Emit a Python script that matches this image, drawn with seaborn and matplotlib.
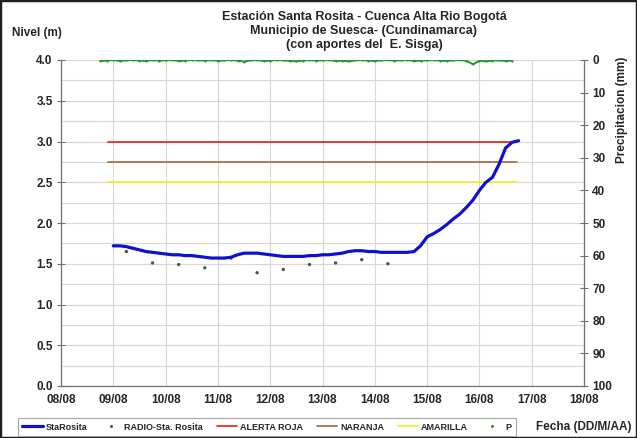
import numpy as np
import pandas as pd
import matplotlib
matplotlib.use("Agg")
import matplotlib.pyplot as plt
import matplotlib.dates as mdates
from matplotlib.patches import Rectangle
from matplotlib.ticker import MultipleLocator
from matplotlib.lines import Line2D
import seaborn as sns

# ---------------- data ----------------
start_day = "2011-08-08"
end_day = "2011-08-18"

# StaRosita level (m), every 3 h from 09/08 00:00
level_start = "2011-08-09 00:00"
level_values = [1.72, 1.72, 1.71, 1.69, 1.67, 1.65, 1.64, 1.63, 1.62, 1.61,
                1.61, 1.60, 1.60, 1.59, 1.58, 1.57, 1.57, 1.57, 1.58, 1.61,
                1.63, 1.63, 1.63, 1.62, 1.61, 1.60, 1.59, 1.59, 1.59, 1.59,
                1.60, 1.60, 1.61, 1.61, 1.62, 1.63, 1.65, 1.66, 1.66, 1.65,
                1.65, 1.64, 1.64, 1.64, 1.64, 1.64, 1.65, 1.72, 1.83, 1.87,
                1.92, 1.98, 2.05, 2.11, 2.19, 2.28, 2.40, 2.50, 2.56, 2.72,
                2.92, 2.99, 3.01]

# RADIO-Sta. Rosita readings (m)
radio_times = ["2011-08-09 06:00", "2011-08-09 18:00", "2011-08-10 06:00",
               "2011-08-10 18:00", "2011-08-11 06:00", "2011-08-11 18:00",
               "2011-08-12 06:00", "2011-08-12 18:00", "2011-08-13 06:00",
               "2011-08-13 18:00", "2011-08-14 06:00"]
radio_values = [1.65, 1.51, 1.49, 1.45, 1.57, 1.39, 1.43, 1.49, 1.51, 1.55, 1.50]

# alert thresholds (m)
alert_span = ["2011-08-08 21:30", "2011-08-16 17:20"]
alerta_roja = 3.0
naranja = 2.75
amarilla = 2.5

# precipitation P (mm), every 3 h from 08/08 18:00
precip_start = "2011-08-08 18:00"
precip_values = [0.3, 0.2, 0.0, 0.3, 0.1, 0.0, 0.2, 0.3,
                 0.0, 0.2, 0.1, 0.0, 0.3, 0.2, 0.0, 0.1,
                 0.2, 0.0, 0.3, 0.1, 0.0, 0.2, 0.5, 0.1,
                 0.0, 0.3, 0.2, 0.0, 0.1, 0.3, 0.4, 0.2,
                 0.0, 0.2, 0.1, 0.0, 0.3, 0.2, 0.4, 0.1,
                 0.0, 0.2, 0.3, 0.1, 0.0, 0.2, 0.1, 0.0,
                 0.3, 0.2, 0.1, 0.0, 0.2, 0.3, 0.1, 0.0,
                 0.2, 1.3, 0.3, 0.4, 0.2, 0.1, 0.3, 0.2]

title_lines = "Estación Santa Rosita - Cuenca Alta Rio Bogotá\nMunicipio de Suesca- (Cundinamarca)\n(con aportes del  E. Sisga)"

# ---------------- frames ----------------
df_level = pd.DataFrame({
    "t": pd.date_range(level_start, periods=len(level_values), freq="3h"),
    "v": level_values})
df_radio = pd.DataFrame({"t": pd.to_datetime(radio_times), "v": radio_values})
span = pd.to_datetime(alert_span)
df_roja = pd.DataFrame({"t": span, "v": [alerta_roja] * 2})
df_nar = pd.DataFrame({"t": span, "v": [naranja] * 2})
df_ama = pd.DataFrame({"t": span, "v": [amarilla] * 2})
df_p = pd.DataFrame({
    "t": pd.date_range(precip_start, periods=len(precip_values), freq="3h"),
    "v": precip_values})

# ---------------- plot ----------------
sns.set_theme(style="white")
plt.rcParams["font.family"] = ["Liberation Sans", "DejaVu Sans"]
plt.rcParams["font.weight"] = "bold"

W, H = 637, 438
fig = plt.figure(figsize=(W / 100, H / 100), dpi=100)
ax = fig.add_axes([61 / W, 1 - 386 / H, (584 - 61) / W, (386 - 60) / H])

grid_c = "#d6d6d6"
ax.set_xlim(pd.Timestamp(start_day), pd.Timestamp(end_day))
ax.set_ylim(0, 4.0)
ax.yaxis.set_major_locator(MultipleLocator(0.5))
ax.yaxis.set_minor_locator(MultipleLocator(0.25))
ax.xaxis.set_major_locator(mdates.DayLocator())
ax.xaxis.set_major_formatter(mdates.DateFormatter("%d/%m"))
ax.grid(True, which="major", color=grid_c, lw=0.8)
ax.grid(True, which="minor", axis="y", color=grid_c, lw=0.8)
ax.set_axisbelow(True)

sns.lineplot(data=df_roja, x="t", y="v", ax=ax, color="#e0201a", lw=1.2, label="ALERTA ROJA")
sns.lineplot(data=df_nar, x="t", y="v", ax=ax, color="#9c6a3c", lw=1.2, label="NARANJA")
sns.lineplot(data=df_ama, x="t", y="v", ax=ax, color="#f0f020", lw=1.2, label="AMARILLA")
sns.lineplot(data=df_level, x="t", y="v", ax=ax, color="#1010d0", lw=2.3, label="StaRosita")
sns.scatterplot(data=df_radio, x="t", y="v", ax=ax, color="#3e5e56", s=6,
                edgecolor="none", label="RADIO-Sta. Rosita", zorder=1.5)

ax.set_xlabel("")
ax.set_ylabel("")
for s in ["top", "right"]:
    ax.spines[s].set_visible(False)
for s in ["left", "bottom"]:
    ax.spines[s].set_color("#707070")
    ax.spines[s].set_linewidth(0.9)
ax.tick_params(axis="both", which="major", direction="inout", length=6,
               width=0.8, color="#707070", labelsize=8.5, pad=3)
ax.tick_params(axis="y", which="minor", length=0)
for lab in ax.get_xticklabels() + ax.get_yticklabels():
    lab.set_fontweight("bold")
ax.yaxis.set_major_formatter(matplotlib.ticker.FormatStrFormatter("%.1f"))

ax2 = ax.twinx()
ax2.set_ylim(100, 0)
ax2.yaxis.set_major_locator(MultipleLocator(10))
sns.lineplot(data=df_p, x="t", y="v", ax=ax2, color="#22992a", lw=1.4,
             marker="o", markersize=1.6, markeredgewidth=0, label="P")
ax2.set_xlim(pd.Timestamp(start_day), pd.Timestamp(end_day))
ax2.set_xlabel("")
ax2.set_ylabel("")
for s in ["top", "left", "bottom"]:
    ax2.spines[s].set_visible(False)
ax2.spines["right"].set_color("#707070")
ax2.spines["right"].set_linewidth(0.9)
ax2.tick_params(axis="y", direction="inout", length=6, width=0.8,
                color="#707070", labelsize=8.5, pad=3)
for lab in ax2.get_yticklabels():
    lab.set_fontweight("bold")
ax2.grid(False)

for a in (ax, ax2):
    if a.get_legend() is not None:
        a.get_legend().remove()

h1, l1 = ax.get_legend_handles_labels()
h2, l2 = ax2.get_legend_handles_labels()
hmap = dict(zip(l1 + l2, h1 + h2))
order = ["StaRosita", "RADIO-Sta. Rosita", "ALERTA ROJA", "NARANJA", "AMARILLA", "P"]
handles = []
for name in order:
    h = hmap[name]
    if name in ("RADIO-Sta. Rosita", "P"):
        c = "#3e5e56" if name != "P" else "#22992a"
        handles.append(Line2D([], [], ls="none", marker="o", markersize=2.2,
                              markerfacecolor=c, markeredgewidth=0))
    else:
        handles.append(Line2D([], [], color=h.get_color(), lw=h.get_linewidth()))
leg = fig.legend(handles, order, loc="center left",
                 bbox_to_anchor=(13 / W, 1 - 427 / H), ncol=6, frameon=True,
                 fontsize=6.5, handlelength=2.3, handletextpad=0.3,
                 columnspacing=1.5, borderpad=0.5, fancybox=False)
leg.get_frame().set_edgecolor("#909090")
leg.get_frame().set_linewidth(0.8)
for t in leg.get_texts():
    t.set_fontweight("bold")

fig.text(364 / W, 1 - 11 / H, title_lines, ha="center", va="top",
         fontsize=9, fontweight="bold", linespacing=1.2)
fig.text(12 / W, 1 - 33 / H, "Nivel (m)", ha="left", va="center",
         fontsize=8.5, fontweight="bold")
fig.text(622 / W, 1 - 110 / H, "Precipitacion (mm)", ha="center", va="center",
         rotation=90, fontsize=8.5, fontweight="bold")
fig.text(631 / W, 1 - 427 / H, "Fecha (DD/M/AA)", ha="right", va="center",
         fontsize=8.5, fontweight="bold")

fig.patches.append(Rectangle((0, 0), 1, 1, transform=fig.transFigure,
                             fill=False, edgecolor="#202020", lw=2.5))

fig.savefig("out.png", dpi=100)
